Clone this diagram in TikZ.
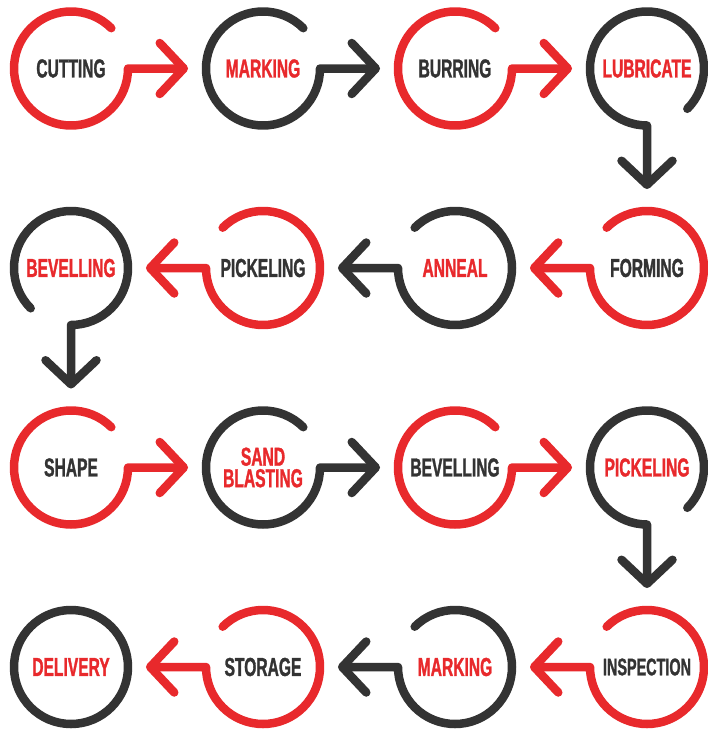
\documentclass[tikz,border=0pt]{standalone}
\usepackage{fontspec}
\usepackage{tikz}
\usetikzlibrary{positioning,arrows.meta}
\newfontfamily\stepfont[FakeStretch=0.6,FakeBold=1.2]{Liberation Sans}
\definecolor{ringred}{HTML}{E8292C}
\definecolor{ringdark}{HTML}{333333}
\tikzstyle{stepnode} =[circle, minimum size=114pt, inner sep=0pt, outer sep=0pt, align=center, font=\stepfont\bfseries\fontsize{26}{21.5}\selectfont]
\tikzstyle{redstep} =[stepnode, text=ringdark]
\tikzstyle{darkstep} =[stepnode, text=ringred]
\tikzstyle{ring} =[line width=8.5pt, line cap=round, line join=round]
\tikzstyle{redring} =[ring, draw=ringred]
\tikzstyle{darkring} =[ring, draw=ringdark]
\tikzstyle{flowtip} =[-{Straight Barb[length=24pt,width=51pt,round]}]

\begin{document}
\begin{tikzpicture}
	\useasboundingbox (-71pt,68.5pt) rectangle (637pt,-662.5pt);
	% first row, left to right
	\node[redstep] (cut) at (0,0) {CUTTING};
	\node[darkstep, right=78pt of cut] (mark) {MARKING};
	\node[redstep, right=78pt of mark] (burr) {BURRING};
	\node[darkstep, right=78pt of burr] (lube) {LUBRICATE};
	% second row, right to left
	\node[redstep, below=85.5pt of lube] (form) {FORMING};
	\node[darkstep, left=78pt of form] (anneal) {ANNEAL};
	\node[redstep, left=78pt of anneal] (pickle) {PICKELING};
	\node[darkstep, left=78pt of pickle] (bevel) {BEVELLING};
	% third row
	\node[redstep, below=85.5pt of bevel] (shape) {SHAPE};
	\node[darkstep, right=78pt of shape] (sand) {SAND\\BLASTING};
	\node[redstep, right=78pt of sand] (bevelb) {BEVELLING};
	\node[darkstep, right=78pt of bevelb] (pickleb) {PICKELING};
	% fourth row
	\node[redstep, below=85.5pt of pickleb, font=\stepfont\bfseries\fontsize{24}{21}\selectfont] (insp) {INSPECTION};
	\node[darkstep, left=78pt of insp] (markb) {MARKING};
	\node[redstep, left=78pt of markb] (store) {STORAGE};
	\node[darkstep, left=78pt of store] (deliv) {DELIVERY};

	% rings with their arrows
	\draw[redring, flowtip] (cut.45) arc[start angle=45, end angle=360, radius=57pt] -- ([xshift=-18pt]mark.west);
	\draw[darkring, flowtip] (mark.45) arc[start angle=45, end angle=360, radius=57pt] -- ([xshift=-18pt]burr.west);
	\draw[redring, flowtip] (burr.45) arc[start angle=45, end angle=360, radius=57pt] -- ([xshift=-18pt]lube.west);
	\draw[darkring, flowtip] (lube.315) arc[start angle=-45, end angle=270, radius=57pt] -- ([yshift=22pt]form.north);

	\draw[redring, flowtip] (form.135) arc[start angle=135, end angle=-180, radius=57pt] -- ([xshift=18pt]anneal.east);
	\draw[darkring, flowtip] (anneal.135) arc[start angle=135, end angle=-180, radius=57pt] -- ([xshift=18pt]pickle.east);
	\draw[redring, flowtip] (pickle.135) arc[start angle=135, end angle=-180, radius=57pt] -- ([xshift=18pt]bevel.east);
	\draw[darkring, flowtip] (bevel.225) arc[start angle=225, end angle=-90, radius=57pt] -- ([yshift=22pt]shape.north);

	\draw[redring, flowtip] (shape.45) arc[start angle=45, end angle=360, radius=57pt] -- ([xshift=-18pt]sand.west);
	\draw[darkring, flowtip] (sand.45) arc[start angle=45, end angle=360, radius=57pt] -- ([xshift=-18pt]bevelb.west);
	\draw[redring, flowtip] (bevelb.45) arc[start angle=45, end angle=360, radius=57pt] -- ([xshift=-18pt]pickleb.west);
	\draw[darkring, flowtip] (pickleb.315) arc[start angle=-45, end angle=270, radius=57pt] -- ([yshift=22pt]insp.north);

	\draw[redring, flowtip] (insp.135) arc[start angle=135, end angle=-180, radius=57pt] -- ([xshift=18pt]markb.east);
	\draw[darkring, flowtip] (markb.135) arc[start angle=135, end angle=-180, radius=57pt] -- ([xshift=18pt]store.east);
	\draw[redring, flowtip] (store.135) arc[start angle=135, end angle=-180, radius=57pt] -- ([xshift=18pt]deliv.east);
	\draw[darkring] (deliv.center) circle[radius=57pt];
\end{tikzpicture}
\end{document}
